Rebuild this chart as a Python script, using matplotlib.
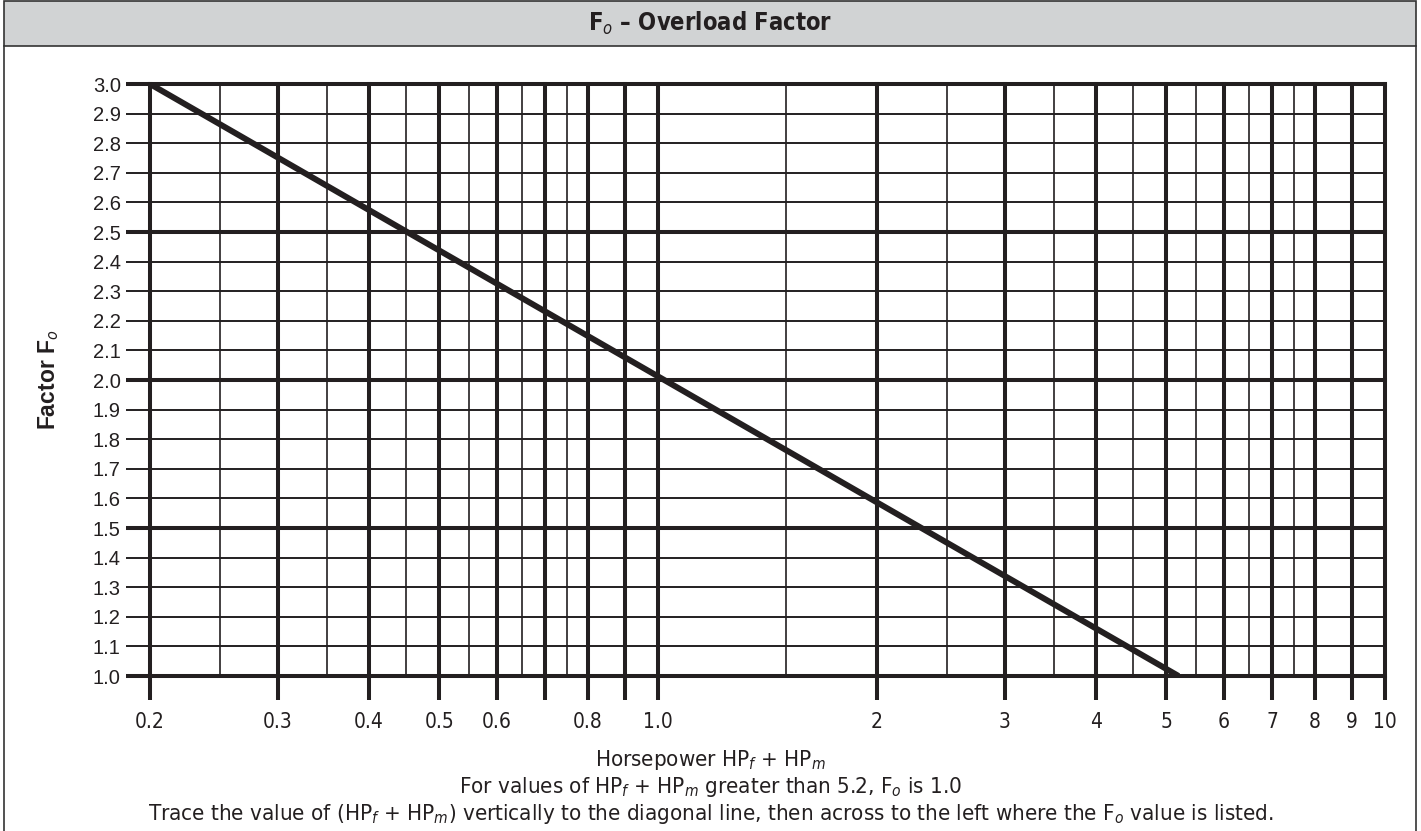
import matplotlib
matplotlib.use('Agg')
import matplotlib.pyplot as plt
from matplotlib.patches import Rectangle
from matplotlib.lines import Line2D
from matplotlib.ticker import NullLocator

plt.rcParams['mathtext.fontset'] = 'custom'
plt.rcParams['mathtext.rm'] = 'DejaVu Sans:stretch=condensed'
plt.rcParams['mathtext.it'] = 'DejaVu Sans:italic:stretch=condensed'
plt.rcParams['mathtext.bf'] = 'DejaVu Sans:bold:stretch=condensed'

NARROW = ['DejaVu Sans']
REGULAR = ['Liberation Sans', 'DejaVu Sans']
INK = '#231f20'

# horsepower grid (x, log scale)
hp_major = [0.2, 0.3, 0.4, 0.5, 0.6, 0.7, 0.8, 0.9, 1.0, 2, 3, 4, 5, 6, 7, 8, 9, 10]
hp_labels = ['0.2', '0.3', '0.4', '0.5', '0.6', '', '0.8', '', '1.0',
             '2', '3', '4', '5', '6', '7', '8', '9', '10']
hp_minor = [0.25, 0.35, 0.45, 0.55, 0.65, 0.75, 1.5, 2.5, 3.5, 4.5, 5.5, 6.5, 7.5]

# overload factor grid (y)
fo_ticks = [1.0, 1.1, 1.2, 1.3, 1.4, 1.5, 1.6, 1.7, 1.8, 1.9, 2.0,
            2.1, 2.2, 2.3, 2.4, 2.5, 2.6, 2.7, 2.8, 2.9, 3.0]
fo_labels = ['1.0', '1.1', '1.2', '1.3', '1.4', '1.5', '1.6', '1.7', '1.8', '1.9', '2.0',
             '2.1', '2.2', '2.3', '2.4', '2.5', '2.6', '2.7', '2.8', '2.9', '3.0']
fo_heavy = [1.0, 1.5, 2.0, 2.5, 3.0]

# the diagonal
line_hp = [0.2, 5.2]
line_fo = [3.0, 1.0]

W, H = 1421, 831
fig = plt.figure(figsize=(W / 100, H / 100), dpi=100)
ax = fig.add_axes([150 / W, 1 - 676 / H, (1385 - 150) / W, (676 - 84) / H])

ax.set_xscale('log')
ax.set_xlim(0.2, 10)
ax.set_ylim(1.0, 3.0)
for s in ax.spines.values():
    s.set_visible(False)

heavy, thin = 2.9, 1.2
for x in hp_minor:
    ax.axvline(x, color=INK, lw=thin, zorder=1)
for y in fo_ticks:
    ax.axhline(y, color=INK, lw=heavy if y in fo_heavy else thin + 0.2,
               zorder=2, clip_on=False)
for x in hp_major:
    ax.axvline(x, color=INK, lw=heavy, zorder=3, clip_on=False)

ax.plot(line_hp, line_fo, color=INK, lw=4.3, solid_capstyle='butt', zorder=4)

ax.xaxis.set_minor_locator(NullLocator())
ax.set_xticks(hp_major, hp_labels)
ax.set_yticks(fo_ticks, fo_labels)
ax.tick_params(axis='x', length=17, width=heavy, color=INK, pad=9,
               labelsize=15, labelcolor=INK)
ax.tick_params(axis='y', length=17, width=thin + 0.2, color=INK, pad=4,
               labelsize=14.5, labelcolor=INK)
for lab in ax.get_xticklabels():
    lab.set_family(NARROW)
    lab.set_fontstretch('condensed')
for lab in ax.get_yticklabels():
    lab.set_family(REGULAR)
for t, v in zip(ax.yaxis.get_major_ticks(), fo_ticks):
    if v in fo_heavy:
        t.tick1line.set_markeredgewidth(heavy)

ax.set_ylabel(r'Factor F$_{\mathit{o}}$', family=REGULAR, fontweight='bold',
              fontsize=16.5, color=INK)
ax.yaxis.set_label_coords(-0.072, 0.5)

# title bar and frame
fig.patches.append(Rectangle((4 / W, 1 - 46 / H), (1416 - 4) / W, 45 / H,
                             transform=fig.transFigure, facecolor='#d1d3d4',
                             edgecolor='#333333', lw=1.2))
fig.lines.append(Line2D([4 / W, 4 / W], [0, 1 - 46 / H], transform=fig.transFigure,
                        color='#333333', lw=1.2))
fig.lines.append(Line2D([1416 / W, 1416 / W], [0, 1 - 46 / H], transform=fig.transFigure,
                        color='#333333', lw=1.2))
fig.text(0.5, 1 - 23 / H, r'F$_{\mathit{o}}$ – Overload Factor', family=NARROW,
         fontstretch='condensed', fontweight='bold', fontsize=17, color=INK,
         ha='center', va='center')

note_kw = dict(family=NARROW, fontstretch='condensed', fontsize=16, color=INK,
               ha='center', va='center')
fig.text(0.5, 1 - 760 / H, r'Horsepower HP$_{\mathit{f}}$ + HP$_{\mathit{m}}$', **note_kw)
fig.text(0.5, 1 - 787 / H,
         r'For values of HP$_{\mathit{f}}$ + HP$_{\mathit{m}}$ greater than 5.2, F$_{\mathit{o}}$ is 1.0',
         **note_kw)
fig.text(0.5, 1 - 814 / H,
         r'Trace the value of (HP$_{\mathit{f}}$ + HP$_{\mathit{m}}$) vertically to the diagonal line, '
         r'then across to the left where the F$_{\mathit{o}}$ value is listed.',
         **note_kw)

fig.savefig('out.png', dpi=100, facecolor='white')
